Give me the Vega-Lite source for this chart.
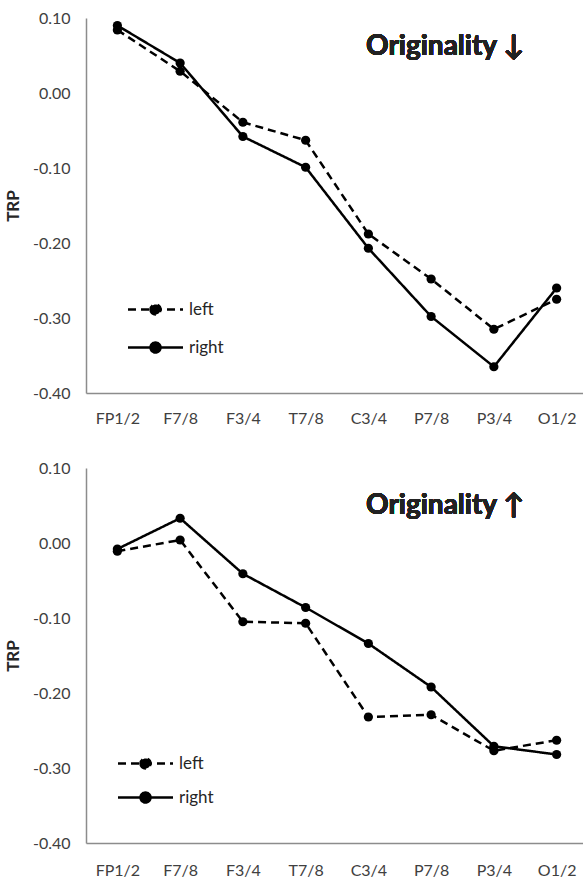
{
  "$schema": "https://vega.github.io/schema/vega-lite/v6.json",
  "background": "white",
  "padding": {"left": 4, "top": 10, "right": 0, "bottom": 0},
  "config": {
    "view": {"stroke": null},
    "font": "Lato",
    "concat": {"spacing": 34},
    "legend": {"padding": 0},
    "axis": {"grid": false, "ticks": false, "domainColor": "#8c8c8c", "domainWidth": 1.5, "labelColor": "#404040", "labelFont": "Lato", "labelFontSize": 16, "titleFont": "Lato", "titleColor": "#262626"}
  },
  "datasets": {
    "down": [
      {"site": "FP1/2", "side": "left", "TRP": 0.084},
      {"site": "F7/8", "side": "left", "TRP": 0.029},
      {"site": "F3/4", "side": "left", "TRP": -0.039},
      {"site": "T7/8", "side": "left", "TRP": -0.063},
      {"site": "C3/4", "side": "left", "TRP": -0.188},
      {"site": "P7/8", "side": "left", "TRP": -0.248},
      {"site": "P3/4", "side": "left", "TRP": -0.315},
      {"site": "O1/2", "side": "left", "TRP": -0.275},
      {"site": "FP1/2", "side": "right", "TRP": 0.090},
      {"site": "F7/8", "side": "right", "TRP": 0.040},
      {"site": "F3/4", "side": "right", "TRP": -0.058},
      {"site": "T7/8", "side": "right", "TRP": -0.099},
      {"site": "C3/4", "side": "right", "TRP": -0.207},
      {"site": "P7/8", "side": "right", "TRP": -0.298},
      {"site": "P3/4", "side": "right", "TRP": -0.365},
      {"site": "O1/2", "side": "right", "TRP": -0.260}
    ],
    "up": [
      {"site": "FP1/2", "side": "left", "TRP": -0.011},
      {"site": "F7/8", "side": "left", "TRP": 0.004},
      {"site": "F3/4", "side": "left", "TRP": -0.105},
      {"site": "T7/8", "side": "left", "TRP": -0.107},
      {"site": "C3/4", "side": "left", "TRP": -0.232},
      {"site": "P7/8", "side": "left", "TRP": -0.229},
      {"site": "P3/4", "side": "left", "TRP": -0.277},
      {"site": "O1/2", "side": "left", "TRP": -0.263},
      {"site": "FP1/2", "side": "right", "TRP": -0.008},
      {"site": "F7/8", "side": "right", "TRP": 0.033},
      {"site": "F3/4", "side": "right", "TRP": -0.041},
      {"site": "T7/8", "side": "right", "TRP": -0.086},
      {"site": "C3/4", "side": "right", "TRP": -0.134},
      {"site": "P7/8", "side": "right", "TRP": -0.192},
      {"site": "P3/4", "side": "right", "TRP": -0.271},
      {"site": "O1/2", "side": "right", "TRP": -0.282}
    ]
  },
  "vconcat": [
    {
      "width": 502,
      "height": 375,
      "data": {"name": "down"},
      "encoding": {
        "x": {"field": "site", "type": "ordinal", "sort": ["FP1/2", "F7/8", "F3/4", "T7/8", "C3/4", "P7/8", "P3/4", "O1/2"], "scale": {"type": "point", "padding": 0.5}, "axis": {"title": null, "labelAngle": 0, "labelPadding": 17}},
        "y": {"field": "TRP", "type": "quantitative", "scale": {"domain": [-0.4, 0.1], "nice": false, "zero": false}, "axis": {"title": "TRP", "titleFontSize": 17, "titleFontWeight": "bold", "titlePadding": 10, "values": [-0.4, -0.3, -0.2, -0.1, 0, 0.1], "labelExpr": "replace(format(datum.value, '.2f'), '\u2212', '-')", "labelPadding": 16}}
      },
      "layer": [
        {
          "mark": {"type": "line", "strokeWidth": 2.5, "color": "black"},
          "encoding": {
            "strokeDash": {"field": "side", "type": "nominal", "scale": {"domain": ["left", "right"], "range": [[8, 5], [1, 0]]},
              "legend": {"title": null, "orient": "none", "legendX": 58, "legendY": 280, "symbolType": "M-2.75,0L2.75,0M-0.5,0A0.5,0.5 0 1,0 0.5,0A0.5,0.5 0 1,0 -0.5,0", "symbolSize": 400, "symbolStrokeWidth": 2.5, "symbolStrokeColor": "black", "symbolFillColor": "black", "rowPadding": 16, "labelFontSize": 17, "labelColor": "#262626", "labelOffset": 22}}
          }
        },
        {
          "mark": {"type": "point", "filled": true, "size": 85, "color": "black", "opacity": 1},
          "encoding": {"detail": {"field": "side", "type": "nominal"}}
        },
        {
          "mark": {"type": "text", "fontSize": 28, "fontWeight": "bold", "color": "#222222", "dx": 14},
          "encoding": {"x": {"datum": "P7/8"}, "y": {"datum": 0.061}, "text": {"value": "Originality ↓"}}
        }
      ]
    },
    {
      "width": 502,
      "height": 375,
      "data": {"name": "up"},
      "encoding": {
        "x": {"field": "site", "type": "ordinal", "sort": ["FP1/2", "F7/8", "F3/4", "T7/8", "C3/4", "P7/8", "P3/4", "O1/2"], "scale": {"type": "point", "padding": 0.5}, "axis": {"title": null, "labelAngle": 0, "labelPadding": 19}},
        "y": {"field": "TRP", "type": "quantitative", "scale": {"domain": [-0.4, 0.1], "nice": false, "zero": false}, "axis": {"title": "TRP", "titleFontSize": 17, "titleFontWeight": "bold", "titlePadding": 10, "values": [-0.4, -0.3, -0.2, -0.1, 0, 0.1], "labelExpr": "replace(format(datum.value, '.2f'), '\u2212', '-')", "labelPadding": 16}}
      },
      "layer": [
        {
          "mark": {"type": "line", "strokeWidth": 2.5, "color": "black"},
          "encoding": {
            "strokeDash": {"field": "side", "type": "nominal", "scale": {"domain": ["left", "right"], "range": [[8, 5], [1, 0]]},
              "legend": {"title": null, "orient": "none", "legendX": 48, "legendY": 284, "symbolType": "M-2.75,0L2.75,0M-0.5,0A0.5,0.5 0 1,0 0.5,0A0.5,0.5 0 1,0 -0.5,0", "symbolSize": 400, "symbolStrokeWidth": 2.5, "symbolStrokeColor": "black", "symbolFillColor": "black", "rowPadding": 12, "labelFontSize": 17, "labelColor": "#262626", "labelOffset": 22}}
          }
        },
        {
          "mark": {"type": "point", "filled": true, "size": 85, "color": "black", "opacity": 1},
          "encoding": {"detail": {"field": "side", "type": "nominal"}}
        },
        {
          "mark": {"type": "text", "fontSize": 28, "fontWeight": "bold", "color": "#222222", "dx": 14},
          "encoding": {"x": {"datum": "P7/8"}, "y": {"datum": 0.05}, "text": {"value": "Originality ↑"}}
        }
      ]
    }
  ],
  "resolve": {"legend": {"strokeDash": "independent"}, "scale": {"strokeDash": "independent"}}
}
